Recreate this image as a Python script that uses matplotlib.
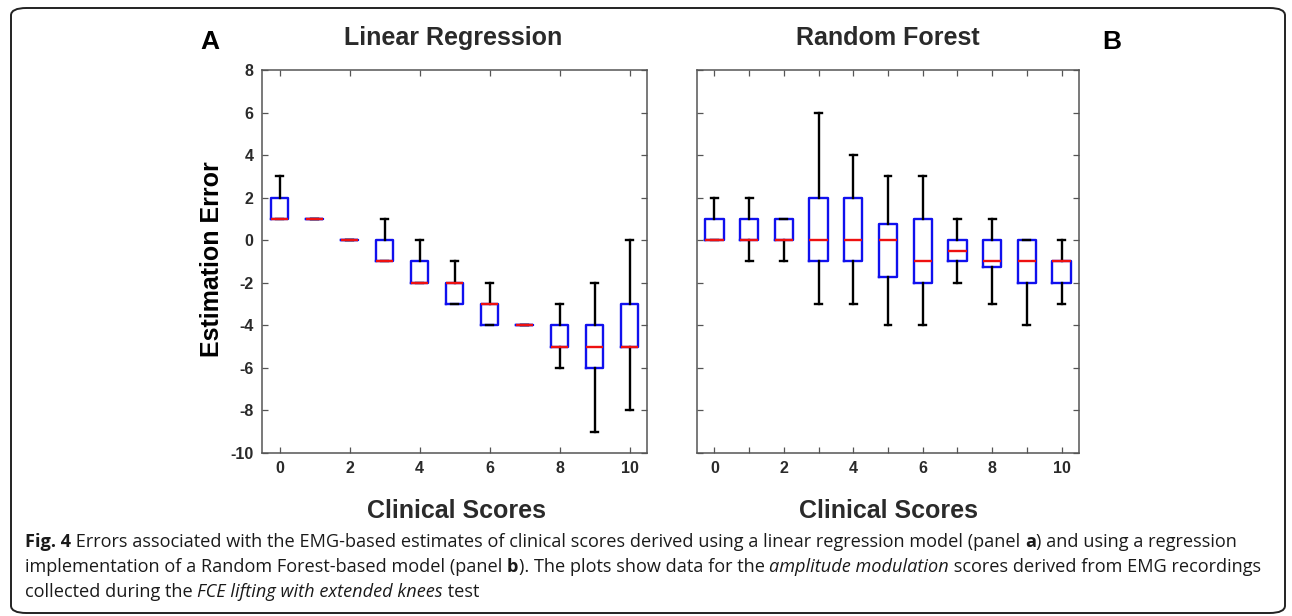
import matplotlib
matplotlib.use('Agg')
import matplotlib.pyplot as plt
from matplotlib.patches import FancyBboxPatch
from matplotlib.font_manager import FontProperties

plt.rcParams['axes.unicode_minus'] = False

# clinical score categories (x positions)
scores = list(range(11))

# Linear regression: estimation error box stats per clinical score
lr_med = [1, 1, 0, -1, -2, -2, -3, -4, -5, -5, -5]
lr_q1 = [1, 1, 0, -1, -2, -3, -4, -4, -5, -6, -5]
lr_q3 = [2, 1, 0, 0, -1, -2, -3, -4, -4, -4, -3]
lr_lo = [1, 1, 0, -1, -2, -3, -4, -4, -6, -9, -8]
lr_hi = [3, 1, 0, 1, 0, -1, -2, -4, -3, -2, 0]

# Random forest: estimation error box stats per clinical score
rf_med = [0, 0, 0, 0, 0, 0, -1, -0.5, -1, -1, -1]
rf_q1 = [0, 0, 0, -1, -1, -1.75, -2, -1, -1.25, -2, -2]
rf_q3 = [1, 1, 1, 2, 2, 0.75, 1, 0, 0, 0, -1]
rf_lo = [0, -1, -1, -3, -3, -4, -4, -2, -3, -4, -3]
rf_hi = [2, 2, 1, 6, 4, 3, 3, 1, 1, 0, 0]

yticks = list(range(-10, 9, 2))

W, H = 1292, 616
fig = plt.figure(figsize=(W / 100, H / 100), dpi=100)

sans = ['Liberation Sans', 'DejaVu Sans']
dark = '#2a2a2a'


def fx(px):
    return px / W


def fy(py):
    return 1 - py / H


def make_stats(med, q1, q3, lo, hi):
    return [dict(med=m, q1=a, q3=b, whislo=l, whishi=h, fliers=[])
            for m, a, b, l, h in zip(med, q1, q3, lo, hi)]


def draw_panel(ax, stats, every_one, width):
    ax.bxp(stats, positions=scores, widths=width, capwidths=0.2,
           showfliers=False, manage_ticks=False,
           boxprops=dict(color='#1010ee', lw=1.7),
           medianprops=dict(color='#ee1010', lw=1.7),
           whiskerprops=dict(color='black', lw=1.7),
           capprops=dict(color='black', lw=1.7))
    ax.set_xlim(-0.5, 10.5)
    ax.set_ylim(-10, 8)
    if every_one:
        ax.set_xticks(scores)
        ax.set_xticklabels([str(s) if s % 2 == 0 else '' for s in scores])
    else:
        ax.set_xticks(scores[::2])
    ax.set_yticks(yticks)
    ax.tick_params(direction='in', top=True, right=True, length=4,
                   width=0.9, color='#555555', labelcolor=dark, pad=6)
    for lab in ax.get_xticklabels() + ax.get_yticklabels():
        lab.set_fontfamily(sans)
        lab.set_fontweight('bold')
        lab.set_fontsize(11.5)
    for sp in ax.spines.values():
        sp.set_color('#555555')
        sp.set_linewidth(1.1)


ax1 = fig.add_axes([fx(262), fy(453), fx(647) - fx(262), fy(70) - fy(453)])
draw_panel(ax1, make_stats(lr_med, lr_q1, lr_q3, lr_lo, lr_hi), False, 0.46)

ax2 = fig.add_axes([fx(697), fy(453), fx(1079) - fx(697), fy(70) - fy(453)])
draw_panel(ax2, make_stats(rf_med, rf_q1, rf_q3, rf_lo, rf_hi), True, 0.53)
ax2.set_yticklabels([])

# panel texts
fig.text(fx(210), fy(42), 'A', ha='center', va='center', fontsize=19,
         fontweight='bold', family=sans, color='black')
fig.text(fx(1112), fy(42), 'B', ha='center', va='center', fontsize=19,
         fontweight='bold', family=sans, color='black')
fig.text(fx(453), fy(38), 'Linear Regression', ha='center', va='center',
         fontsize=18, fontweight='bold', family=sans, color=dark)
fig.text(fx(888), fy(38), 'Random Forest', ha='center', va='center',
         fontsize=18, fontweight='bold', family=sans, color=dark)
fig.text(fx(457), fy(511), 'Clinical Scores', ha='center', va='center',
         fontsize=18, fontweight='bold', family=sans, color=dark)
fig.text(fx(888), fy(511), 'Clinical Scores', ha='center', va='center',
         fontsize=18, fontweight='bold', family=sans, color=dark)
fig.text(fx(212), fy(259), 'Estimation Error', ha='center', va='center',
         rotation=90, fontsize=18, fontweight='bold', family=sans,
         color='black')

# rounded frame around the figure
frame = FancyBboxPatch((fx(11), fy(613)), fx(1285) - fx(11), fy(8) - fy(613),
                       boxstyle='round,pad=0,rounding_size=0.012',
                       transform=fig.transFigure, fill=False,
                       edgecolor='#222222', lw=1.4)
fig.patches.append(frame)

# caption with mixed styles
caption = [
    [('Fig. 4', 'bold', 'normal'),
     (' Errors associated with the EMG-based estimates of clinical scores derived '
      'using a linear regression model (panel ', 'normal', 'normal'),
     ('a', 'bold', 'normal'),
     (') and using a regression', 'normal', 'normal')],
    [('implementation of a Random Forest-based model (panel ', 'normal', 'normal'),
     ('b', 'bold', 'normal'),
     ('). The plots show data for the ', 'normal', 'normal'),
     ('amplitude modulation', 'normal', 'italic'),
     (' scores derived from EMG recordings', 'normal', 'normal')],
    [('collected during the ', 'normal', 'normal'),
     ('FCE lifting with extended knees', 'normal', 'italic'),
     (' test', 'normal', 'normal')],
]
line_y = [542, 567, 592]
cap_size = 13.1
renderer = fig.canvas.get_renderer()
for segs, yy in zip(caption, line_y):
    x = 25
    for s, wt, st in segs:
        fp = FontProperties(family=['Open Sans', 'DejaVu Sans'], weight=wt,
                            style=st, size=cap_size)
        fig.text(fx(x), fy(yy), s, ha='left', va='center', fontproperties=fp,
                 color='#1a1a1a')
        w1, _, _ = renderer.get_text_width_height_descent('|' + s + '|', fp, ismath=False)
        w2, _, _ = renderer.get_text_width_height_descent('||', fp, ismath=False)
        x += w1 - w2

fig.savefig('out.png', dpi=100)
